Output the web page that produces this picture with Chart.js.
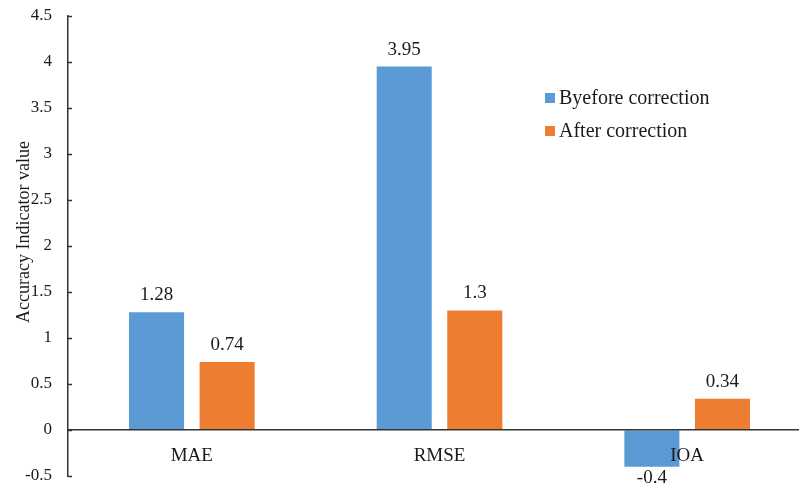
<!DOCTYPE html>
<html>
<head>
<meta charset="utf-8">
<script src="https://cdn.jsdelivr.net/npm/chart.js@4/dist/chart.umd.min.js"></script>
<style>
  html, body { margin: 0; padding: 0; background: #fff; overflow: hidden; }
  #wrap { width: 799px; height: 483px; overflow: hidden; }
  canvas { display: block; }
</style>
</head>
<body>
<div id="wrap"><canvas id="c" width="811" height="483"></canvas></div>
<script>
// Accuracy indicators before and after correction
const categories = ['MAE', 'RMSE', 'IOA'];
const seriesNames = ['Byefore correction', 'After correction'];
const beforeValues = [1.28, 3.95, -0.4];
const afterValues = [0.74, 1.3, 0.34];
const yRange = { min: -0.5, max: 4.5, step: 0.5 };
const yTitle = 'Accuracy Indicator value';

const BLUE = '#5B9BD5';
const ORANGE = '#ED7D31';
const INK = '#1a1a1a';
const AXIS = '#333333';
const SERIF = '"Liberation Serif", "Times New Roman", serif';

// value labels, inner y tick marks, legend and rotated axis title
const decorations = {
  id: 'decorations',
  afterDatasetsDraw(chart) {
    const ctx = chart.ctx;
    ctx.save();
    ctx.fillStyle = INK;
    ctx.font = '19px ' + SERIF;
    ctx.textAlign = 'center';
    ctx.textBaseline = 'alphabetic';
    chart.data.datasets.forEach((ds, di) => {
      chart.getDatasetMeta(di).data.forEach((bar, i) => {
        const v = ds.data[i];
        const y = v >= 0 ? bar.y - 12 : bar.y + 16;
        ctx.fillText(String(v), bar.x, y);
      });
    });
    ctx.restore();
  },
  afterDraw(chart) {
    const ctx = chart.ctx;
    const ys = chart.scales.y;
    const area = chart.chartArea;
    ctx.save();
    // tick marks pointing into the plot
    ctx.strokeStyle = AXIS;
    ctx.lineWidth = 1.5;
    ys.ticks.forEach(t => {
      const py = Math.round(ys.getPixelForValue(t.value)) + 0.5;
      ctx.beginPath();
      ctx.moveTo(area.left, py);
      ctx.lineTo(area.left + 4, py);
      ctx.stroke();
    });
    // legend
    ctx.font = '20px ' + SERIF;
    ctx.textAlign = 'left';
    ctx.textBaseline = 'middle';
    chart.data.datasets.forEach((ds, i) => {
      const cy = 98 + i * 33;
      ctx.fillStyle = ds.backgroundColor;
      ctx.fillRect(545, cy - 5, 10, 10);
      ctx.fillStyle = INK;
      ctx.fillText(ds.label, 559, cy + 1);
    });
    // y axis title
    ctx.translate(24, 232);
    ctx.rotate(-Math.PI / 2);
    ctx.font = '18px ' + SERIF;
    ctx.textAlign = 'center';
    ctx.textBaseline = 'middle';
    ctx.fillText(yTitle, 0, 0);
    ctx.restore();
  }
};

new Chart(document.getElementById('c'), {
  type: 'bar',
  data: {
    labels: categories,
    datasets: [
      { label: seriesNames[0], data: beforeValues, backgroundColor: BLUE },
      { label: seriesNames[1], data: afterValues, backgroundColor: ORANGE }
    ]
  },
  options: {
    responsive: false,
    animation: false,
    devicePixelRatio: 1,
    categoryPercentage: 0.57,
    barPercentage: 0.78,
    layout: { padding: { top: 16, bottom: 7, left: 0, right: 0 } },
    plugins: {
      legend: { display: false },
      tooltip: { enabled: false }
    },
    scales: {
      x: {
        position: { y: 0 },
        grid: { display: false, drawTicks: false },
        border: { display: true, color: AXIS, width: 1.5, z: 1 },
        ticks: {
          z: 1,
          color: INK,
          padding: 15,
          font: { family: SERIF, size: 19 }
        }
      },
      y: {
        min: yRange.min,
        max: yRange.max,
        grid: { drawOnChartArea: false, drawTicks: false },
        border: { display: true, color: AXIS, width: 1.5 },
        ticks: {
          stepSize: yRange.step,
          color: INK,
          padding: 16,
          font: { family: SERIF, size: 17 },
          callback: v => String(+v.toFixed(2))
        },
        afterFit(scale) {
          scale.width = 68;
          scale.paddingTop = 0;
          scale.paddingBottom = 0;
        }
      }
    }
  },
  plugins: [decorations]
});
</script>
</body>
</html>
